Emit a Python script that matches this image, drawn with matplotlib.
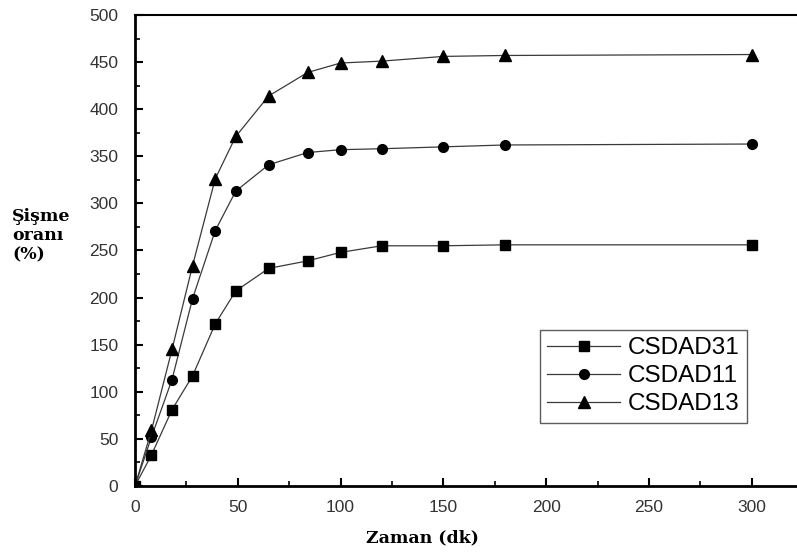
import matplotlib
matplotlib.use("Agg")
import matplotlib.pyplot as plt
from matplotlib.ticker import MultipleLocator

# ── data ──
t_31 = [0, 8, 18, 28, 39, 49, 65, 84, 100, 120, 150, 180, 300]
csdad31 = [0, 33, 81, 117, 172, 207, 231, 239, 248, 255, 255, 256, 256]

t_11 = [0, 8, 18, 28, 39, 49, 65, 84, 100, 120, 150, 180, 300]
csdad11 = [0, 52, 113, 199, 271, 313, 341, 354, 357, 358, 360, 362, 363]

t_13 = [0, 8, 18, 28, 39, 49, 65, 84, 100, 120, 150, 180, 300]
csdad13 = [0, 59, 145, 234, 326, 371, 414, 439, 449, 451, 456, 457, 458]

series = [
    ("CSDAD31", t_31, csdad31, "s", 6.5),
    ("CSDAD11", t_11, csdad11, "o", 7),
    ("CSDAD13", t_13, csdad13, "^", 8),
]

fig = plt.figure(figsize=(7.97, 5.54), dpi=100)
ax = fig.add_axes([0.1694, 0.1227, 0.8306, 0.8503])

for name, t, y, mk, ms in series:
    ax.plot(t, y, color="#3a3a3a", linewidth=0.9, marker=mk, markersize=ms,
            markerfacecolor="black", markeredgecolor="black", label=name)

ax.set_xlim(0, 322)
ax.set_ylim(0, 500)
ax.xaxis.set_major_locator(MultipleLocator(50))
ax.xaxis.set_minor_locator(MultipleLocator(25))
ax.yaxis.set_major_locator(MultipleLocator(50))
ax.yaxis.set_minor_locator(MultipleLocator(25))

ax.spines["right"].set_visible(False)
for s in ["left", "bottom"]:
    ax.spines[s].set_linewidth(2.0)
ax.spines["top"].set_linewidth(1.5)

ax.tick_params(which="major", direction="in", length=6, width=1.5,
               labelsize=12.5, labelcolor="#333333")
ax.tick_params(which="minor", direction="in", length=3.5, width=1.2)
ax.tick_params(axis="y", pad=12)
ax.tick_params(axis="x", pad=10)
for lab in ax.get_xticklabels() + ax.get_yticklabels():
    lab.set_family("Liberation Sans")

fig.text(422 / 797, 1 - 538 / 554, "Zaman (dk)", family="DejaVu Serif",
         fontweight="bold", fontsize=12.5, ha="center", va="center")
fig.text(12 / 797, 1 - 208 / 554, "Şişme\noranı\n(%)", family="DejaVu Serif",
         fontweight="bold", fontsize=12.5, ha="left", va="top",
         linespacing=1.15)

leg = ax.legend(loc="upper left", bbox_to_anchor=(405 / 662, 1 - 315 / 471),
                prop={"family": "Liberation Sans", "size": 17.5},
                frameon=True, fancybox=False, edgecolor="#333333",
                handlelength=3.0, handletextpad=0.3, borderpad=0.3,
                labelspacing=0.25, borderaxespad=0)
leg.get_frame().set_linewidth(1.0)

fig.savefig("out.png", dpi=100)
